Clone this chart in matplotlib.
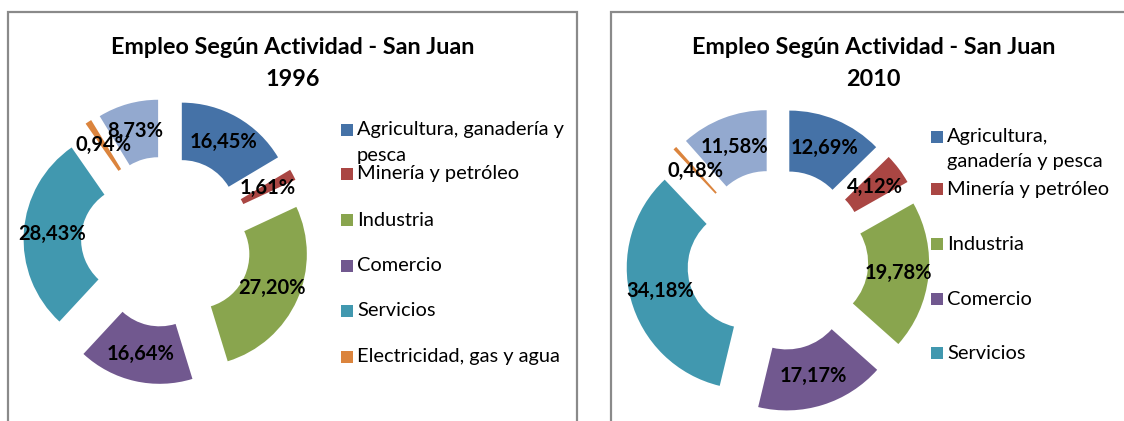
import matplotlib
matplotlib.use("Agg")
import matplotlib.pyplot as plt
from matplotlib.patches import Rectangle

plt.rcParams['font.family'] = ['Lato', 'DejaVu Sans']

# Data
categories = ["Agricultura, ganadería y pesca", "Minería y petróleo", "Industria",
              "Comercio", "Servicios", "Electricidad, gas y agua", "Otros"]
values_1996 = [16.45, 1.61, 27.20, 16.64, 28.43, 0.94, 8.73]
values_2010 = [12.69, 4.12, 19.78, 17.17, 34.18, 0.48, 11.58]
colors = ["#4572A7", "#AA4643", "#89A54E", "#71588F", "#4198AF", "#DB843D", "#93A9CF"]
title_text = "Empleo Según Actividad - San Juan"
years = ["1996", "2010"]
legend_1996 = ["Agricultura, ganadería y\npesca", "Minería y petróleo", "Industria",
               "Comercio", "Servicios", "Electricidad, gas y agua"]
legend_2010 = ["Agricultura,\nganadería y pesca", "Minería y petróleo", "Industria",
               "Comercio", "Servicios"]

W, H = 1124, 421
fig = plt.figure(figsize=(W / 100, H / 100), dpi=100)
ax = fig.add_axes([0, 0, 1, 1])


def Y(y):
    """Convert a top-down pixel row into the axes' bottom-up coordinate."""
    return H - y


def pct_label(p):
    return f"{p:.2f}%".replace(".", ",")


panels = [
    dict(values=values_1996, year=years[0], legend=legend_1996,
         frame=(8, 12, 577, 440), title_x=292.5,
         cx=166.5, cy=241.6, R=112, r=54.5, d=31,
         leg_sq_x=341, leg_txt_x=357,
         leg_rows=[130, 174, 220, 265.7, 310.7, 356.7], leg_line=25),
    dict(values=values_2010, year=years[1], legend=legend_2010,
         frame=(611, 12, 1136, 440), title_x=873.5,
         cx=777.5, cy=260, R=121.4, r=60.4, d=30.4,
         leg_sq_x=931, leg_txt_x=947,
         leg_rows=[136.7, 189.3, 244, 299.3, 353.3], leg_line=25),
]

for p in panels:
    x0, y0, x1, y1 = p["frame"]
    ax.add_patch(Rectangle((x0, Y(y1)), x1 - x0, y1 - y0, facecolor="white",
                           edgecolor="#8a8a8a", linewidth=1.6, zorder=0))

    # Title (two lines)
    ax.text(p["title_x"], Y(48), title_text, ha="center", va="center",
            fontsize=16.8, fontweight="bold", color="black")
    ax.text(p["title_x"], Y(80), p["year"], ha="center", va="center",
            fontsize=16.8, fontweight="bold", color="black")

    # Exploded doughnut
    n = len(p["values"])
    wedges, _, autotexts = ax.pie(
        p["values"], colors=colors, startangle=90, counterclock=False,
        radius=p["R"], center=(p["cx"], Y(p["cy"])), explode=[p["d"]] * n,
        wedgeprops=dict(width=p["R"] - p["r"], linewidth=0),
        autopct=pct_label, pctdistance=0.75,
        textprops=dict(fontsize=14.5, fontweight="bold", color="black"))

    # Legend
    for i, lab in enumerate(p["legend"]):
        yrow = p["leg_rows"][i]
        ax.add_patch(Rectangle((p["leg_sq_x"], Y(yrow + 6)), 12, 12,
                               facecolor=colors[i], edgecolor="none"))
        for k, line in enumerate(lab.split("\n")):
            ax.text(p["leg_txt_x"], Y(yrow + k * p["leg_line"]), line,
                    ha="left", va="center", fontsize=14.4, color="black")

ax.set_xlim(0, W)
ax.set_ylim(0, H)
ax.set_aspect("auto")
ax.axis("off")

fig.savefig("out.png", dpi=100, facecolor="white")
